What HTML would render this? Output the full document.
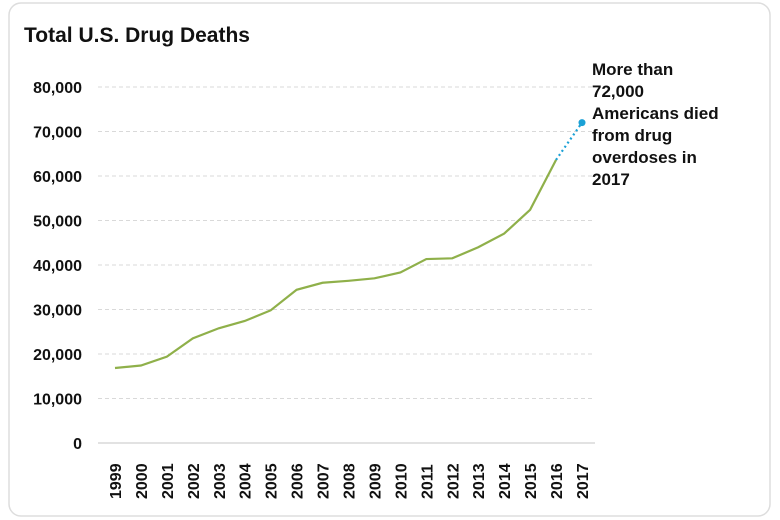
<!DOCTYPE html>
<html><head><meta charset="utf-8"><style>
body{margin:0;background:#fff;}
svg{display:block;font-family:"Liberation Sans",Arial,sans-serif;}
</style></head><body>
<svg width="780" height="520" viewBox="0 0 780 520">
<rect x="9" y="3" width="761" height="513" rx="12" fill="#fff" stroke="#ddd" stroke-width="1.5"/>
<text x="24" y="42" font-size="21" font-weight="bold" fill="#111">Total U.S. Drug Deaths</text>
<g id="grid"></g><g id="yt"></g><g id="xt"></g><g id="series"></g>
<text font-size="17" font-weight="bold" fill="#111">
<tspan x="592" y="75">More than</tspan><tspan x="592" y="97">72,000</tspan><tspan x="592" y="119">Americans died</tspan><tspan x="592" y="141">from drug</tspan><tspan x="592" y="163">overdoses in</tspan><tspan x="592" y="185">2017</tspan></text>
</svg>
<script>
const years=["1999","2000","2001","2002","2003","2004","2005","2006","2007","2008","2009","2010","2011","2012","2013","2014","2015","2016","2017"];
const deaths=[16849,17415,19394,23518,25785,27424,29813,34425,36010,36450,37004,38329,41340,41502,43982,47055,52404,63632];
const projected=[63632,72000];
const yTicks=[0,10000,20000,30000,40000,50000,60000,70000,80000];
const yTickLabels=["0","10,000","20,000","30,000","40,000","50,000","60,000","70,000","80,000"];
const NS="http://www.w3.org/2000/svg";
const y=v=>443-v*(356/80000);
const x=i=>115+i*(467/18);
function mk(t,a,p){const e=document.createElementNS(NS,t);for(const k in a)e.setAttribute(k,a[k]);document.getElementById(p).appendChild(e);return e;}
yTicks.forEach((v,i)=>{
 const l=mk('line',{x1:98,x2:595,y1:y(v),y2:y(v),stroke:v===0?'#d9d9d9':'#d9d9d9','stroke-width':v===0?1.5:1,'stroke-dasharray':v===0?'':'4,3'},'grid');
 
 
 const t=mk('text',{x:82,y:y(v)+6,'text-anchor':'end','font-size':16,'font-weight':'bold',fill:'#111'},'yt');
 t.textContent=yTickLabels[i];
 
 
});
years.forEach((s,i)=>{
 const t=mk('text',{transform:`translate(${x(i)+6},499) rotate(-90)`,'font-size':16,'font-weight':'bold',fill:'#111'},'xt');
 t.textContent=s;
 
 
});
const pl=mk('polyline',{points:deaths.map((v,i)=>x(i)+','+y(v)).join(' '),fill:'none',stroke:'#8fb04a','stroke-width':2.2},'series');


const n=deaths.length-1;
const dl=mk('polyline',{points:projected.map((v,i)=>x(n+i)+','+y(v)).join(' '),fill:'none',stroke:'#1ba1d6','stroke-width':2.2,'stroke-dasharray':'2,3'},'series');


const c=mk('circle',{cx:x(n+1),cy:y(projected[1]),r:3.5,fill:'#1ba1d6'},'series');


</script>
</body></html>
